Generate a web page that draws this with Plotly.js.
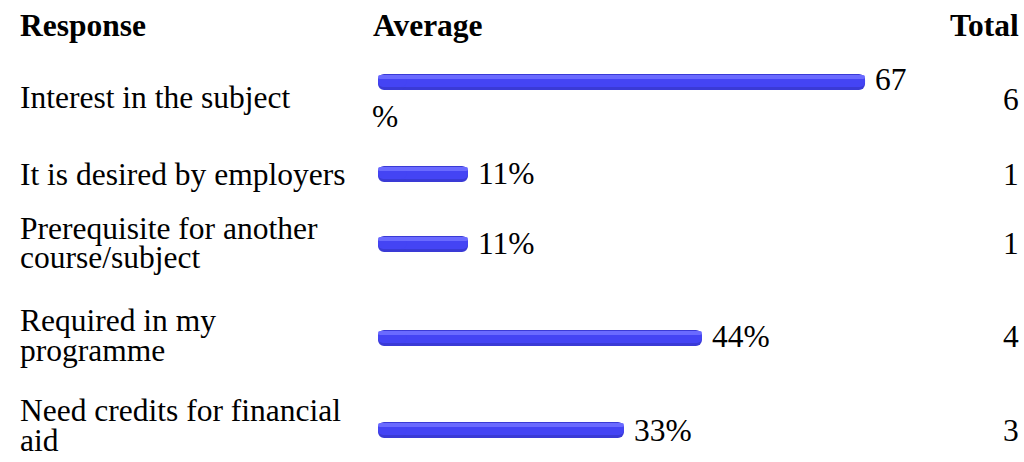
<!DOCTYPE html>
<html>
<head>
<meta charset="utf-8">
<script src="https://cdn.plot.ly/plotly-3.0.1.min.js"></script>
<style>html,body{margin:0;padding:0;background:#fff;}#chart{width:1024px;height:462px;}</style>
</head>
<body>
<div id="chart"></div>
<script>
// ---- data ----
const headers = ["Response", "Average", "Total"];
const responses = [
  "Interest in the subject",
  "It is desired by employers",
  "Prerequisite for another<br>course/subject",
  "Required in my<br>programme",
  "Need credits for financial<br>aid"
];
const averages = [67, 11, 11, 44, 33];   // percent
const totals = [6, 1, 1, 4, 3];

// ---- layout constants (pixel rows; y axis is in pixels) ----
const W = 1024, H = 462;
const pxPerPct = 7.09, zeroPx = 390;
const barStart = -12 / pxPerPct;
const barY = [82, 174, 244, 338, 430];
const labelLinesY = [[97], [174], [228, 257], [320, 350], [410, 440]];
const totalY = [99, 174, 243, 336, 430];
const pctY = [79, 173, 243, 336, 430];
const FONT = "'Liberation Serif', 'Times New Roman', serif";
const FS = 31.5;

const xr = [-zeroPx / pxPerPct, (W - zeroPx) / pxPerPct];
const mid = barStart + 2.5;

function barLayer(color, thick, dy, radius) {
  const ys = barY.map(y => y + dy);
  return [
    { type: 'bar', orientation: 'h', y: ys, x: averages.map(v => v - mid), base: averages.map(() => mid),
      width: thick, marker: { color: color, cornerradius: radius, line: { width: 0 } }, hoverinfo: 'skip', showlegend: false },
    { type: 'bar', orientation: 'h', y: ys, x: averages.map(() => barStart - (mid + 1.5)), base: averages.map(() => mid + 1.5),
      width: thick, marker: { color: color, cornerradius: radius, line: { width: 0 } }, hoverinfo: 'skip', showlegend: false }
  ];
}

const traces = [].concat(
  barLayer('#3a3ad6', 16, 0, 6),
  barLayer('#4444f4', 12, -1, 5),
  barLayer('#6a6aff', 4, -5, 2)
);

const ann = [];
const txt = (text, x, y, xref, xanchor, bold, extra) => Object.assign({
  text: bold ? '<b>' + text + '</b>' : text, x: x, y: y, xref: xref, yref: 'y',
  xanchor: xanchor, yanchor: 'middle', showarrow: false,
  font: { family: FONT, size: FS, color: '#000' }
}, extra || {});

ann.push(txt(headers[0], 18 / W, 25, 'paper', 'left', true));
ann.push(txt(headers[1], 371 / W, 25, 'paper', 'left', true));
ann.push(txt(headers[2], 1021 / W, 25, 'paper', 'right', true));

responses.forEach((r, i) => {
  r.split('<br>').forEach((line, k) => {
    ann.push(txt(line, 18 / W, labelLinesY[i][k], 'paper', 'left', false));
  });
  const label = averages[i] + '%';
  const endPx = zeroPx + averages[i] * pxPerPct + 10;
  if (endPx + label.length * FS * 0.5 > 920) {
    ann.push(txt(String(averages[i]), averages[i], pctY[i], 'x', 'left', false, { xshift: 8 }));
    ann.push(txt('%', 370 / W, 116, 'paper', 'left', false));
  } else {
    ann.push(txt(label, averages[i], pctY[i], 'x', 'left', false, { xshift: 8 }));
  }
  ann.push(txt(String(totals[i]), 1021 / W, totalY[i], 'paper', 'right', false));
});

const layout = {
  width: W, height: H,
  margin: { l: 0, r: 0, t: 0, b: 0, pad: 0 },
  paper_bgcolor: '#fff', plot_bgcolor: '#fff',
  barmode: 'overlay',
  xaxis: { range: xr, visible: false, fixedrange: true },
  yaxis: { range: [H, 0], visible: false, fixedrange: true },
  annotations: ann,
  showlegend: false
};

Plotly.newPlot('chart', traces, layout, { staticPlot: true, displayModeBar: false });
</script>
</body>
</html>
